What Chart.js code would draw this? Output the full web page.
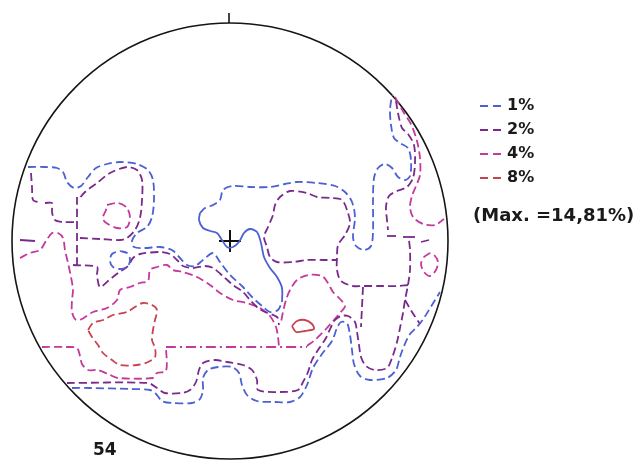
<!DOCTYPE html>
<html>
<head>
<meta charset="utf-8">
<script src="https://cdn.jsdelivr.net/npm/chart.js@4.4.1/dist/chart.umd.min.js"></script>
<style>
  html, body { margin: 0; padding: 0; background: #fff; }
  canvas { display: block; }
</style>
</head>
<body>
<canvas id="net" width="641" height="460"></canvas>
<script>
// Contour levels and pen colours
const levels = ['1%', '2%', '4%', '8%'];
const levelColors = ['#4c60d4', '#7a2a8c', '#c4399c', '#c8434f'];
const maxLabel = '(Max. =14,81%)';
const sampleCount = '54';
const netRadius = 218;
const netCentre = [[0, 0]];

// Contour traces in net coordinates (origin at the net centre, y up)
const blue1 = [[-202,74],[-185,74],[-173,73],[-167,69],[-163,59],[-156,53],[-149,55],[-142,64],[-134,73],[-123,77],[-110,79],[-93,77],[-82,71],[-77,61],[-76,41],[-78,24],[-83,14],[-93,8],[-98,0],[-96,-6],[-85,-7],[-70,-6],[-58,-9],[-50,-17],[-43,-24],[-35,-25],[-27,-19],[-17,-12],[-10,-21],[0,-34],[12,-45],[22,-56],[32,-65],[40,-71],[48,-69],[52,-61]];
const blue2 = [[52,-61],[52,-47],[47,-36],[40,-27],[34,-16],[31,-2],[27,9],[20,12],[14,8],[9,-1],[3,-6],[-3,-6],[-8,1],[-13,8],[-20,10],[-27,13],[-31,21],[-30,28]];
const blue3 = [[-30,28],[-25,33],[-17,36],[-10,41],[-7,51],[2,55],[20,54],[40,54],[55,57],[67,59],[87,58],[105,55],[115,49],[122,39],[125,24],[123,4],[126,-5],[134,-9],[141,-5],[143,9],[143,41],[144,63],[148,73],[155,77],[162,73],[168,64],[175,61],[180,65],[181,81],[178,93],[170,98],[164,103],[161,116],[160,131],[162,146]];
const blue4 = [[-110,-10],[-103,-12],[-100,-18],[-102,-25],[-109,-28],[-117,-26],[-120,-20],[-118,-13],[-110,-10]];
const blue5 = [[-158,-147],[-140,-147],[-100,-148],[-80,-149],[-74,-153],[-68,-160],[-58,-162],[-38,-162],[-30,-158],[-27,-149],[-27,-137],[-22,-129],[-12,-126],[2,-126],[9,-132],[12,-144],[17,-154],[27,-160],[45,-161],[60,-161],[70,-156],[77,-144],[83,-127],[92,-113],[102,-100],[107,-87],[111,-81],[117,-82],[120,-94],[122,-109],[124,-123],[130,-135],[140,-139],[157,-137],[166,-129],[170,-116],[174,-105],[180,-93],[187,-86],[194,-77],[202,-64],[210,-51]];

const purple1 = [[-199,68],[-198,54],[-197,41],[-192,39]];
const purple2 = [[-185,38],[-178,38],[-178,29],[-175,21],[-167,19],[-152,19]];
const purple3 = [[-153,44],[-153,-26]];
const purple4 = [[-150,3],[-130,2],[-110,1],[-103,3],[-95,11],[-90,23],[-88,41],[-88,61],[-93,71],[-103,74],[-120,68],[-133,58],[-145,49],[-152,41]];
const purple5 = [[-157,-24],[-133,-26],[-133,-34],[-130,-46],[-122,-40],[-112,-32],[-102,-25],[-97,-17],[-90,-13],[-70,-11],[-60,-13],[-53,-19],[-47,-25],[-37,-27],[-25,-25],[-17,-27],[-5,-37],[3,-44],[13,-51],[20,-59],[28,-67],[35,-71],[47,-76],[49,-84]];
const purple6 = [[-163,-142],[-82,-142],[-73,-147],[-65,-152],[-48,-152],[-40,-149],[-34,-141],[-31,-129],[-27,-122],[-15,-119],[-3,-121],[13,-124],[22,-129],[27,-139],[28,-149],[50,-151],[68,-149],[73,-141],[78,-131],[82,-119],[88,-109],[96,-97],[101,-86],[105,-79],[111,-75],[118,-75],[125,-81],[127,-91],[129,-104],[131,-116],[136,-125],[145,-129],[157,-127],[162,-117],[167,-101],[170,-87],[173,-72],[175,-59],[178,-44],[180,-29],[180,-9],[179,1]];
const purple7 = [[178,-44],[167,-45],[150,-45],[133,-45],[123,-45],[111,-40],[107,-29],[107,-16],[108,-4],[115,6],[120,18],[118,28],[112,41],[100,43],[87,44],[77,48],[60,50],[50,44],[45,36],[43,26],[38,14],[34,4],[37,-6],[40,-16],[47,-21],[63,-21],[77,-19],[93,-19],[107,-19]];
const purple8 = [[166,140],[168,128],[172,113],[178,107],[184,96],[185,78],[183,63],[177,54],[167,50],[159,45],[156,34],[157,21],[158,11]];
const purple9 = [[157,5],[166,5]];
const purple10 = [[173,4],[185,4]];
const purple11 = [[191,-1],[199,1]];
const purple12 = [[133,-46],[131,-86]];
const purple13 = [[175,-59],[182,-71],[190,-83]];
const purple14 = [[-210,1],[-195,0]];

const magenta1 = [[-210,-17],[-200,-12],[-190,-9],[-184,0],[-178,8],[-172,8],[-167,3],[-165,-9],[-162,-22],[-159,-36],[-157,-49],[-158,-59],[-158,-71],[-154,-79],[-148,-78],[-137,-71],[-123,-67],[-113,-59],[-110,-49],[-100,-46],[-90,-42],[-82,-40],[-80,-29],[-73,-26],[-63,-24],[-57,-29],[-47,-31],[-33,-36],[-20,-44],[-10,-52],[3,-59],[17,-62],[30,-67],[40,-75],[46,-86],[48,-96],[49,-106]];
const magenta2 = [[77,-105],[86,-98],[96,-88],[104,-79],[110,-72],[115,-65],[110,-58],[103,-51],[98,-42],[92,-35],[78,-34],[67,-39],[60,-49],[56,-59],[53,-71],[51,-81]];
const magenta3 = [[-188,-106],[-163,-106],[-153,-107],[-150,-115],[-148,-123],[-142,-129],[-132,-129],[-120,-134],[-112,-137],[-77,-137],[-73,-132],[-64,-130],[-64,-106]];
const magenta4 = [[-64,-106],[77,-106]];
const magenta5 = [[-123,36],[-112,38],[-103,33],[-100,23],[-103,14],[-113,13],[-125,19],[-127,24],[-124,31],[-123,36]];
const magenta6 = [[165,144],[174,128],[181,117],[187,100],[190,83],[190,66],[186,55],[182,45],[180,34],[183,24],[193,17],[205,16],[214,22]];
const magenta7 = [[200,-12],[194,-16],[191,-23],[194,-31],[200,-35],[206,-29],[208,-21],[205,-15],[200,-12]];

const red1 = [[-142,-89],[-137,-82],[-127,-79],[-117,-74],[-103,-71],[-95,-66],[-87,-62],[-78,-64],[-73,-69],[-75,-79],[-77,-89],[-78,-99],[-75,-107],[-75,-116],[-82,-121],[-93,-124],[-110,-124],[-118,-119],[-127,-112],[-132,-104],[-138,-96],[-142,-89]];
const red2 = [[62,-85],[67,-80],[75,-79],[82,-83],[84,-88],[75,-90],[66,-91],[62,-85]];

// Which level each trace belongs to, and how its pen was set
const DASH = [8, 4], SOLID = [], DASH_DOT = [10, 4, 2, 4];
const traces = [
  [blue1, 0, DASH], [blue2, 0, SOLID], [blue3, 0, DASH], [blue4, 0, DASH], [blue5, 0, DASH],
  [purple1, 1, DASH], [purple2, 1, DASH], [purple3, 1, DASH], [purple4, 1, DASH], [purple5, 1, DASH],
  [purple6, 1, DASH], [purple7, 1, DASH], [purple8, 1, DASH], [purple9, 1, SOLID], [purple10, 1, SOLID],
  [purple11, 1, SOLID], [purple12, 1, DASH], [purple13, 1, DASH], [purple14, 1, SOLID],
  [magenta1, 2, DASH], [magenta2, 2, DASH], [magenta3, 2, DASH], [magenta4, 2, DASH_DOT],
  [magenta5, 2, DASH], [magenta6, 2, DASH], [magenta7, 2, DASH],
  [red1, 3, DASH], [red2, 3, SOLID]
];

const toPoints = arr => arr.map(([x, y]) => ({ x, y }));

const datasets = traces.map(([pts, level, dash]) => ({
  data: toPoints(pts),
  showLine: true,
  borderColor: levelColors[level],
  borderWidth: 1.8,
  borderDash: dash,
  pointRadius: 0,
  tension: 0.3,
  fill: false
}));

// Net centre marker
datasets.push({
  data: toPoints(netCentre),
  showLine: false,
  pointStyle: 'cross',
  pointRadius: 11,
  borderColor: '#111',
  borderWidth: 2
});

const netPlugin = {
  id: 'netFrame',
  beforeDatasetsDraw(chart) {
    const { ctx, scales: { x, y } } = chart;
    const cx = x.getPixelForValue(0);
    const cy = y.getPixelForValue(0);
    const r = x.getPixelForValue(netRadius) - cx;
    ctx.save();
    ctx.strokeStyle = '#151515';
    ctx.lineWidth = 1.6;
    ctx.beginPath();
    ctx.arc(cx, cy, r, 0, Math.PI * 2);
    ctx.stroke();
    // north mark
    ctx.beginPath();
    ctx.moveTo(cx - 1, y.getPixelForValue(netRadius));
    ctx.lineTo(cx - 1, y.getPixelForValue(netRadius + 10));
    ctx.stroke();
    ctx.restore();
  },
  afterDraw(chart) {
    const { ctx } = chart;
    ctx.save();
    ctx.textBaseline = 'middle';
    ctx.textAlign = 'left';
    levels.forEach((lab, i) => {
      const ly = 106 + i * 24;
      ctx.strokeStyle = levelColors[i];
      ctx.lineWidth = 1.8;
      ctx.setLineDash([8, 5]);
      ctx.beginPath();
      ctx.moveTo(480, ly);
      ctx.lineTo(502, ly);
      ctx.stroke();
      ctx.setLineDash([]);
      ctx.fillStyle = '#1a1a1a';
      ctx.font = 'bold 16px "DejaVu Sans"';
      ctx.fillText(lab, 507, ly);
    });
    ctx.font = 'bold 18px "DejaVu Sans"';
    ctx.fillText(maxLabel, 473, 216);
    ctx.font = 'bold 17px "DejaVu Sans"';
    ctx.fillText(sampleCount, 93, 451);
    ctx.restore();
  }
};

new Chart(document.getElementById('net'), {
  type: 'scatter',
  data: { datasets },
  options: {
    responsive: false,
    animation: false,
    devicePixelRatio: 1,
    layout: { padding: 0, autoPadding: false },
    plugins: { legend: { display: false }, tooltip: { enabled: false } },
    scales: {
      x: { type: 'linear', min: -230, max: 411, display: false },
      y: { type: 'linear', min: -219, max: 241, display: false }
    }
  },
  plugins: [netPlugin]
});
</script>
</body>
</html>
